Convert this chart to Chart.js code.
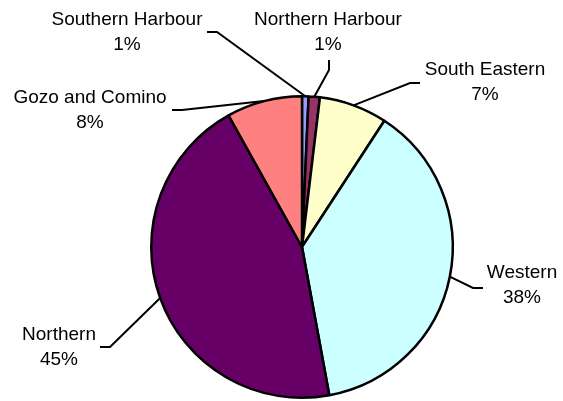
<!DOCTYPE html>
<html>
<head>
<meta charset="utf-8">
<script src="https://cdn.jsdelivr.net/npm/chart.js@4.4.1/dist/chart.umd.min.js"></script>
<style>
    html, body { margin: 0; padding: 0; background: #fff; }
    #wrap { width: 563px; height: 401px; }
</style>
</head>
<body>
<div id="wrap"><canvas id="pie" width="563" height="401"></canvas></div>
<script>
const regions = ['Southern Harbour', 'Northern Harbour', 'South Eastern', 'Western', 'Northern', 'Gozo and Comino'];
const shares = [0.7, 1.2, 7.3, 37.9, 44.8, 8.1];
const sliceColors = ['#9999FF', '#993366', '#FFFFCC', '#CCFFFF', '#660066', '#FF8080'];

// label placement: text centre of first line, then the leader line elbow (start, bend)
const labelSpots = [
    { x: 127, y: 20, leader: [[207, 32], [217, 32]] },
    { x: 328, y: 20, leader: [[329, 60], [329, 70]] },
    { x: 485, y: 70, leader: [[420, 83], [410, 83]] },
    { x: 522, y: 273, leader: [[483, 288], [473, 288]] },
    { x: 59, y: 335, leader: [[100, 347], [110, 347]] },
    { x: 90, y: 98, leader: [[172, 110], [182, 110]] }
];

const calloutLabels = {
    id: 'calloutLabels',
    afterDraw(chart) {
        const ctx = chart.ctx;
        const meta = chart.getDatasetMeta(0);
        const values = chart.data.datasets[0].data;
        const total = values.reduce((a, b) => a + b, 0);

        ctx.save();
        ctx.strokeStyle = '#000';
        ctx.lineWidth = 2;
        meta.data.forEach((arc, i) => {
            const p = arc.getProps(['x', 'y', 'startAngle', 'endAngle', 'outerRadius'], true);
            const mid = (p.startAngle + p.endAngle) / 2;
            const ex = p.x + Math.cos(mid) * p.outerRadius;
            const ey = p.y + Math.sin(mid) * p.outerRadius;
            const spot = labelSpots[i];

            ctx.beginPath();
            ctx.moveTo(spot.leader[0][0], spot.leader[0][1]);
            ctx.lineTo(spot.leader[1][0], spot.leader[1][1]);
            ctx.lineTo(ex, ey);
            ctx.stroke();

            ctx.fillStyle = '#000';
            ctx.font = '19px "Liberation Sans", Arial, sans-serif';
            ctx.textAlign = 'center';
            ctx.textBaseline = 'middle';
            ctx.fillText(chart.data.labels[i], spot.x, spot.y);
            ctx.fillText(Math.round(values[i] / total * 100) + '%', spot.x, spot.y + 25);
        });
        ctx.restore();
    }
};

new Chart(document.getElementById('pie').getContext('2d'), {
    type: 'pie',
    data: {
        labels: regions,
        datasets: [{
            data: shares,
            backgroundColor: sliceColors,
            borderColor: '#000',
            borderWidth: 2.5
        }]
    },
    options: {
        responsive: false,
        animation: false,
        layout: { padding: { top: 95, bottom: 2, left: 41, right: 0 } },
        plugins: {
            legend: { display: false },
            tooltip: { enabled: false }
        }
    },
    plugins: [calloutLabels]
});
</script>
</body>
</html>
